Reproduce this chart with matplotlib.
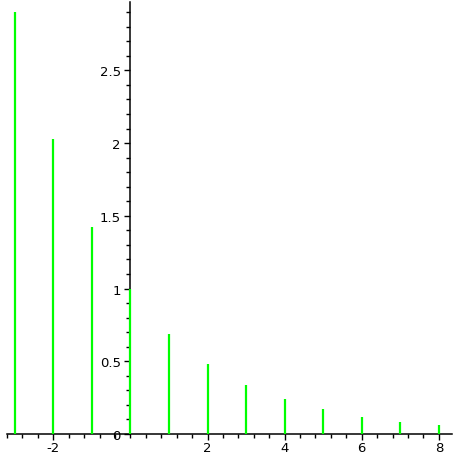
import matplotlib
matplotlib.use("Agg")
import matplotlib.pyplot as plt
from matplotlib.ticker import MultipleLocator, FixedLocator

# values
xs = [-3, -2, -1, 0, 1, 2, 3, 4, 5, 6, 7, 8]
heights = [2.9, 2.03, 1.42, 1.0, 0.69, 0.48, 0.34, 0.24, 0.17, 0.12, 0.08, 0.06]
xticks = [-2, 2, 4, 6, 8]
yticks = [0, 0.5, 1, 1.5, 2, 2.5]
ylabels = ["0", "0.5", "1", "1.5", "2", "2.5"]

fig = plt.figure(figsize=(4.56, 4.56), dpi=100)
ax = fig.add_axes([7/456, 1 - 435/456, 445/456, 432/456])

ax.vlines(xs, 0, heights, colors="#00ff00", linewidth=1.6, zorder=3)

ax.set_xlim(-3.2, 8.34)
ax.set_ylim(0, 2.97)

for s in ["top", "right"]:
    ax.spines[s].set_visible(False)
ax.spines["left"].set_position(("data", 0))
ax.spines["bottom"].set_position(("data", 0))
ax.spines["left"].set_linewidth(1.1)
ax.spines["bottom"].set_linewidth(1.1)

ax.xaxis.set_major_locator(FixedLocator(xticks))
ax.xaxis.set_minor_locator(MultipleLocator(0.4))
ax.set_xticklabels([str(t) for t in xticks])
ax.yaxis.set_major_locator(FixedLocator(yticks))
ax.yaxis.set_minor_locator(MultipleLocator(0.1))
ax.set_yticklabels(ylabels)

ax.tick_params(which="major", direction="out", length=4, width=1, labelsize=9.5, pad=1)
ax.tick_params(which="minor", direction="out", length=3, width=1)
ax.tick_params(axis="y", which="major", pad=3)

fig.savefig("out.png", dpi=100)
